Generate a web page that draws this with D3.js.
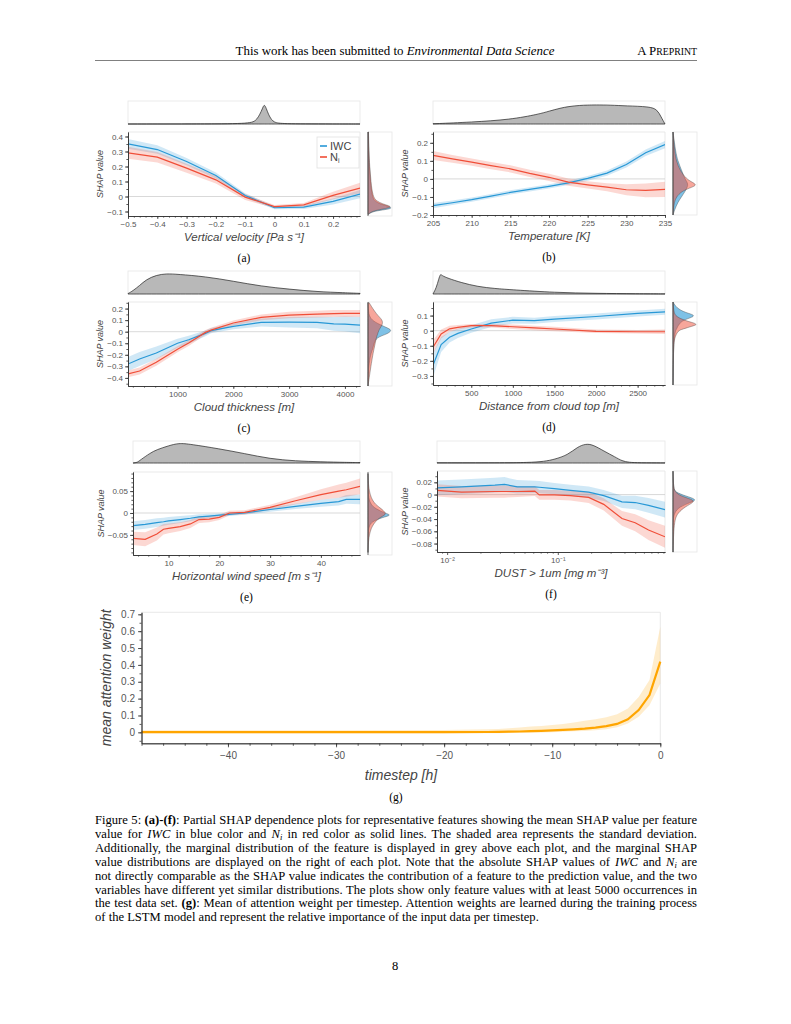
<!DOCTYPE html>
<html>
<head>
<meta charset="utf-8">
<script src="https://cdn.jsdelivr.net/npm/d3@7"></script>
<style>
  body { margin: 0; background: #fff; }
  svg text { font-family: "Liberation Sans", Arial, sans-serif; }
  svg text.serif { font-family: "Liberation Serif", "Times New Roman", serif; }
</style>
</head>
<body>
<svg id="page" width="791" height="1024"></svg>
<script>
// ---- (a) vertical velocity
const aX = [-0.5, -0.4, -0.3, -0.2, -0.1, 0, 0.1, 0.2, 0.292];
const aIwc = [0.351, 0.313, 0.233, 0.14, 0.007, -0.075, -0.071, -0.033, 0.016];
const aIwcSd = [0.032, 0.028, 0.024, 0.02, 0.015, 0.01, 0.012, 0.02, 0.028];
const aNi = [0.291, 0.262, 0.189, 0.111, -0.004, -0.067, -0.056, 0.007, 0.056];
const aNiSd = [0.04, 0.035, 0.03, 0.025, 0.02, 0.01, 0.012, 0.025, 0.035];
const aDensX = [-0.5, -0.3, -0.2, -0.12, -0.08, -0.065, -0.055, -0.045, -0.038, -0.034, -0.028, -0.021, -0.01, 0, 0.012, 0.04, 0.1, 0.2, 0.292];
const aDens = [0, 0.002, 0.005, 0.02, 0.06, 0.15, 0.33, 0.6, 0.85, 0.92, 0.75, 0.47, 0.19, 0.09, 0.04, 0.015, 0.005, 0.002, 0];
const aShapY = [0.43, 0.3, 0.2, 0.1, 0.0, -0.03, -0.05, -0.06, -0.07, -0.08, -0.09, -0.1, -0.12];
const aShapIwc = [0.01, 0.03, 0.06, 0.1, 0.17, 0.28, 0.5, 0.75, 0.92, 1.0, 0.6, 0.2, 0.0];
const aShapNi = [0.02, 0.04, 0.07, 0.12, 0.2, 0.35, 0.62, 0.85, 0.97, 0.75, 0.4, 0.15, 0.0];

// ---- (b) temperature
const bX = [205, 207.5, 210, 212.5, 215, 217.5, 220, 222.5, 225, 227.5, 230, 232.5, 235];
const bIwc = [-0.148, -0.132, -0.115, -0.095, -0.075, -0.058, -0.041, -0.022, 0.003, 0.032, 0.08, 0.145, 0.19];
const bIwcSd = [0.015, 0.013, 0.012, 0.012, 0.012, 0.012, 0.012, 0.012, 0.013, 0.015, 0.017, 0.018, 0.02];
const bNi = [0.13, 0.111, 0.093, 0.074, 0.056, 0.031, 0.009, -0.018, -0.033, -0.046, -0.06, -0.064, -0.058];
const bNiSd = [0.025, 0.022, 0.02, 0.02, 0.02, 0.02, 0.02, 0.02, 0.02, 0.022, 0.03, 0.038, 0.042];
const bDensX = [205, 210, 215, 218.7, 220, 221.5, 222.5, 224, 225, 226, 228, 230, 233, 234, 234.5, 235];
const bDens = [0.01, 0.09, 0.21, 0.47, 0.61, 0.76, 0.83, 0.89, 0.9, 0.91, 0.9, 0.86, 0.83, 0.69, 0.33, 0];
const bShapY = [0.26, 0.15, 0.1, 0.05, 0, -0.02, -0.035, -0.05, -0.07, -0.1, -0.13, -0.17, -0.2];
const bShapIwc = [0.0, 0.11, 0.2, 0.35, 0.5, 0.6, 0.62, 0.58, 0.5, 0.35, 0.2, 0.07, 0];
const bShapNi = [0.0, 0.07, 0.14, 0.28, 0.55, 0.83, 1.0, 0.7, 0.35, 0.14, 0.05, 0.02, 0];

// ---- (c) cloud thickness
const cX = [113, 320, 620, 1000, 1200, 1500, 1600, 2000, 2500, 3000, 3500, 3800, 4000, 4270];
const cIwc = [-0.28, -0.236, -0.184, -0.1, -0.07, -0.015, 0.009, 0.046, 0.08, 0.082, 0.08, 0.068, 0.066, 0.057];
const cIwcSd = [0.06, 0.06, 0.055, 0.04, 0.035, 0.025, 0.022, 0.025, 0.035, 0.045, 0.05, 0.06, 0.065, 0.07];
const cNi = [-0.365, -0.34, -0.265, -0.152, -0.098, -0.006, 0.014, 0.075, 0.124, 0.144, 0.152, 0.157, 0.158, 0.158];
const cNiSd = [0.03, 0.03, 0.03, 0.025, 0.025, 0.02, 0.02, 0.022, 0.025, 0.028, 0.03, 0.03, 0.03, 0.03];
const cDensX = [113, 200, 320, 440, 620, 800, 1000, 1500, 2000, 2500, 3000, 3500, 4000, 4270];
const cDens = [0.02, 0.15, 0.4, 0.69, 0.9, 0.97, 0.94, 0.83, 0.61, 0.37, 0.23, 0.11, 0.06, 0.03];
const cShapY = [0.25, 0.15, 0.1, 0.06, 0.03, 0.01, -0.02, -0.05, -0.1, -0.15, -0.2, -0.3, -0.4, -0.47];
const cShapIwc = [0.0, 0.02, 0.15, 0.5, 0.85, 1.0, 0.8, 0.35, 0.25, 0.2, 0.1, 0.03, 0.005, 0];
const cShapNi = [0.05, 0.35, 0.62, 0.6, 0.5, 0.45, 0.4, 0.35, 0.3, 0.25, 0.2, 0.12, 0.05, 0.0];

// ---- (d) distance from cloud top
const dX = [40, 138, 239, 339, 500, 740, 1000, 1260, 1500, 2000, 2500, 2829];
const dIwc = [-0.23, -0.092, -0.044, -0.018, 0.011, 0.05, 0.07, 0.066, 0.077, 0.094, 0.114, 0.125];
const dIwcSd = [0.08, 0.05, 0.035, 0.03, 0.025, 0.025, 0.022, 0.02, 0.02, 0.02, 0.02, 0.02];
const dNi = [-0.11, -0.022, 0.012, 0.022, 0.033, 0.033, 0.026, 0.018, 0.011, -0.004, -0.007, -0.007];
const dNiSd = [0.045, 0.03, 0.02, 0.015, 0.012, 0.012, 0.015, 0.015, 0.015, 0.012, 0.012, 0.015];
const dDensX = [40, 80, 108, 130, 145, 219, 380, 580, 780, 1000, 1500, 2000, 2500, 2829];
const dDens = [0, 0.3, 0.7, 0.97, 0.88, 0.75, 0.54, 0.35, 0.26, 0.2, 0.07, 0.03, 0.01, 0.005];
const dShapY = [0.19, 0.15, 0.12, 0.1, 0.08, 0.06, 0.05, 0.04, 0.03, 0.01, 0, -0.05, -0.1, -0.2, -0.3, -0.36];
const dShapIwc = [0, 0.15, 0.5, 1.0, 0.6, 0.35, 0.3, 0.25, 0.2, 0.15, 0.1, 0.05, 0.03, 0.015, 0.008, 0];
const dShapNi = [0, 0.02, 0.05, 0.1, 0.3, 0.65, 0.9, 1.0, 0.8, 0.4, 0.2, 0.06, 0.03, 0.01, 0.004, 0];

// ---- (e) horizontal wind speed
const eX = [3, 5.4, 7.7, 9, 10, 12.3, 14.3, 16, 18, 20, 22, 25, 30, 35, 40, 43.5, 45, 47.7];
const eIwc = [-0.029, -0.026, -0.022, -0.02, -0.018, -0.015, -0.012, -0.009, -0.007, -0.005, -0.003, 0, 0.008, 0.015, 0.022, 0.026, 0.031, 0.031];
const eIwcSd = [0.01, 0.01, 0.01, 0.009, 0.009, 0.008, 0.007, 0.006, 0.005, 0.004, 0.004, 0.004, 0.005, 0.006, 0.008, 0.009, 0.01, 0.011];
const eNi = [-0.058, -0.06, -0.048, -0.037, -0.035, -0.031, -0.025, -0.015, -0.014, -0.01, 0, 0.0015, 0.013, 0.028, 0.042, 0.05, 0.053, 0.061];
const eNiSd = [0.015, 0.016, 0.015, 0.012, 0.011, 0.01, 0.009, 0.008, 0.007, 0.006, 0.005, 0.005, 0.006, 0.008, 0.012, 0.015, 0.016, 0.018];
const eDensX = [3, 3.8, 4.4, 6.4, 7.7, 10, 12, 14.3, 20, 25, 30, 35, 40, 45, 47.7];
const eDens = [0, 0.02, 0.14, 0.5, 0.67, 0.86, 1.0, 0.94, 0.71, 0.47, 0.21, 0.1, 0.06, 0.03, 0.02];
const eShapY = [0.09, 0.06, 0.04, 0.03, 0.02, 0.01, 0.0, -0.005, -0.01, -0.02, -0.03, -0.04, -0.06, -0.09];
const eShapIwc = [0, 0.005, 0.02, 0.05, 0.12, 0.3, 0.7, 1.0, 0.6, 0.15, 0.05, 0.02, 0.005, 0];
const eShapNi = [0, 0.02, 0.1, 0.18, 0.3, 0.55, 0.75, 0.7, 0.5, 0.3, 0.18, 0.1, 0.02, 0];

// ---- (f) dust > 1um
const fX = [0.0081, 0.0135, 0.027, 0.033, 0.043, 0.062, 0.068, 0.093, 0.13, 0.19, 0.26, 0.38, 0.5, 0.66, 0.93];
const fIwc = [0.011, 0.0126, 0.0154, 0.0166, 0.0126, 0.0126, 0.012, 0.0097, 0.0069, 0.004, -0.0017, -0.012, -0.013, -0.0177, -0.0246];
const fIwcSd = [0.012, 0.012, 0.012, 0.012, 0.011, 0.01, 0.01, 0.009, 0.009, 0.009, 0.009, 0.01, 0.011, 0.012, 0.013];
const fNi = [0.0069, 0.004, 0.005, 0.005, 0.005, 0.0057, -0.0006, -0.0006, -0.0017, -0.0046, -0.016, -0.039, -0.046, -0.058, -0.069];
const fNiSd = [0.01, 0.01, 0.01, 0.01, 0.009, 0.008, 0.008, 0.008, 0.008, 0.009, 0.01, 0.012, 0.014, 0.016, 0.018];
const fDensX = [0.0081, 0.03, 0.054, 0.076, 0.093, 0.123, 0.15, 0.18, 0.21, 0.26, 0.33, 0.38, 0.44, 0.54, 0.93];
const fDens = [0.01, 0.01, 0.02, 0.08, 0.18, 0.4, 0.8, 0.97, 0.9, 0.6, 0.3, 0.1, 0.03, 0.01, 0.005];
const fShapY = [0.038, 0.01, 0.004, -0.002, -0.008, -0.012, -0.02, -0.03, -0.04, -0.06, -0.08, -0.094];
const fShapIwc = [0, 0.02, 0.1, 0.5, 1.0, 0.8, 0.25, 0.06, 0.01, 0.0, 0, 0];
const fShapNi = [0, 0.02, 0.1, 0.3, 0.8, 0.9, 0.5, 0.2, 0.08, 0.03, 0.01, 0];

// ---- (g) attention weight
const gX = [-48, -40, -30, -20, -16, -15, -14, -13, -12, -11, -10, -9, -8, -7, -6, -5, -4, -3, -2, -1, 0];
const gMean = [0.001, 0.001, 0.001, 0.001, 0.002, 0.003, 0.004, 0.005, 0.007, 0.009, 0.012, 0.015, 0.018, 0.022, 0.028, 0.037, 0.05, 0.077, 0.132, 0.221, 0.419];
const gLow = [-0.006, -0.006, -0.006, -0.006, -0.005, -0.005, -0.004, -0.003, -0.002, -0.001, 0.0, 0.003, 0.006, 0.008, 0.012, 0.018, 0.03, 0.053, 0.093, 0.16, 0.29];
const gHigh = [0.012, 0.012, 0.012, 0.014, 0.018, 0.02, 0.024, 0.028, 0.034, 0.038, 0.043, 0.049, 0.059, 0.069, 0.077, 0.089, 0.107, 0.142, 0.21, 0.31, 0.626];

const BLUE = "#2898d6", RED = "#f04e38", ORANGE = "#ffa500";
const svg = d3.select("#page");

function num(d) {
  return d === 0 ? "0" : String(+d.toFixed(6)).replace("-", "\u2212");
}
function pairs(xs, ys) { return xs.map((v, i) => [v, ys[i]]); }

function styleAxis(ax, size) {
  ax.attr("font-family", null).attr("font-size", size);
  ax.select(".domain").attr("stroke", "#333").attr("stroke-width", 0.8);
  ax.selectAll(".tick line").attr("stroke", "#333").attr("stroke-width", 0.8);
  ax.selectAll(".tick text").attr("fill", "#555");
}

function drawPanel(p) {
  const g = svg.append("g");
  const x = (p.log ? d3.scaleLog() : d3.scaleLinear()).domain(p.xDomain).range([p.x0, p.x1]);
  const y = d3.scaleLinear().domain(p.yDomain).range([p.y1, p.y0]);

  // top marginal: feature distribution
  const ty = d3.scaleLinear().domain([0, 1]).range([p.ty1, p.ty0 + 2]);
  g.append("rect").attr("x", p.x0).attr("y", p.ty0).attr("width", p.x1 - p.x0).attr("height", p.ty1 - p.ty0)
    .attr("fill", "none").attr("stroke", "#e6e6e6").attr("stroke-width", 0.8);
  g.append("path").datum(pairs(p.densX, p.dens))
    .attr("d", d3.area().x(d => x(d[0])).y0(ty(0)).y1(d => ty(d[1])).curve(d3.curveBasis))
    .attr("fill", "#b8b8b8").attr("stroke", "#222").attr("stroke-width", 0.7);

  // right marginal: SHAP distributions
  const rx = d3.scaleLinear().domain([0, 1]).range([p.rx0, p.rx1]);
  g.append("rect").attr("x", p.rx0).attr("y", p.y0).attr("width", p.rx1 - p.rx0).attr("height", p.y1 - p.y0)
    .attr("fill", "none").attr("stroke", "#e6e6e6").attr("stroke-width", 0.8);
  const marg = d3.area().y(d => y(d[0])).x0(p.rx0).x1(d => rx(d[1])).curve(d3.curveBasis);
  g.append("path").datum(pairs(p.shapY, p.shapIwc)).attr("d", marg)
    .attr("fill", BLUE).attr("fill-opacity", 0.6).attr("stroke", "#444").attr("stroke-width", 0.4);
  g.append("path").datum(pairs(p.shapY, p.shapNi)).attr("d", marg)
    .attr("fill", RED).attr("fill-opacity", 0.5).attr("stroke", "#444").attr("stroke-width", 0.4);
  g.append("line").attr("x1", p.rx0).attr("x2", p.rx0).attr("y1", p.y0).attr("y2", p.y1)
    .attr("stroke", "#555").attr("stroke-width", 0.8);

  // main frame
  const clipId = "clip-" + p.id;
  svg.append("clipPath").attr("id", clipId).append("rect")
    .attr("x", p.x0).attr("y", p.y0).attr("width", p.x1 - p.x0).attr("height", p.y1 - p.y0);
  g.append("path").attr("d", `M${p.x0},${p.y0}H${p.x1}V${p.y1}`)
    .attr("fill", "none").attr("stroke", "#e3e3e3").attr("stroke-width", 0.8);
  g.append("line").attr("x1", p.x0).attr("x2", p.x1).attr("y1", y(0)).attr("y2", y(0))
    .attr("stroke", "#cfcfcf").attr("stroke-width", 0.8);

  const body = g.append("g").attr("clip-path", `url(#${clipId})`);
  const series = [[p.iwc, p.iwcSd, BLUE], [p.ni, p.niSd, RED]];
  series.forEach(([m, sd, col]) => {
    const rows = p.fx.map((v, i) => [v, m[i], sd[i]]);
    body.append("path").datum(rows)
      .attr("d", d3.area().x(d => x(d[0])).y0(d => y(d[1] - d[2])).y1(d => y(d[1] + d[2])))
      .attr("fill", col).attr("fill-opacity", 0.22);
  });
  series.forEach(([m, sd, col]) => {
    body.append("path").datum(pairs(p.fx, m))
      .attr("d", d3.line().x(d => x(d[0])).y(d => y(d[1])))
      .attr("fill", "none").attr("stroke", col).attr("stroke-width", 1.2);
  });

  // axes
  const yAx = g.append("g").attr("transform", `translate(${p.x0},0)`)
    .call(d3.axisLeft(y).tickValues(p.yTicks).tickFormat(num).tickSize(3).tickSizeOuter(0).tickPadding(2));
  styleAxis(yAx, 8);
  const yMin = g.append("g").attr("transform", `translate(${p.x0},0)`)
    .call(d3.axisLeft(y).tickValues(p.yMinor).tickFormat("").tickSize(1.6).tickSizeOuter(0));
  styleAxis(yMin, 8);
  const xAx = g.append("g").attr("transform", `translate(0,${p.y1})`)
    .call(d3.axisBottom(x).tickValues(p.xTicks).tickFormat(p.xFmt || num).tickSize(3).tickSizeOuter(0).tickPadding(2));
  styleAxis(xAx, 8);
  const xMin = g.append("g").attr("transform", `translate(0,${p.y1})`)
    .call(d3.axisBottom(x).tickValues(p.xMinor).tickFormat("").tickSize(1.6).tickSizeOuter(0));
  styleAxis(xMin, 8);

  // labels
  g.append("text").attr("x", (p.x0 + p.x1) / 2).attr("y", p.y1 + 25).attr("text-anchor", "middle")
    .attr("font-size", 11.5).attr("font-style", "italic").attr("fill", "#444").text(p.xLabel);
  g.append("text").attr("transform", `translate(${p.ylabX},${(p.y0 + p.y1) / 2}) rotate(-90)`)
    .attr("text-anchor", "middle").attr("dy", "0.35em")
    .attr("font-size", 9).attr("font-style", "italic").attr("fill", "#444").text("SHAP value");
  g.append("text").attr("class", "serif").attr("x", (p.x0 + p.x1) / 2).attr("y", p.y1 + 46)
    .attr("text-anchor", "middle").attr("font-size", 11.5).text(p.caption);

  if (p.legend) {
    const lg = g.append("g");
    lg.append("rect").attr("x", 317).attr("y", 137).attr("width", 42).attr("height", 31)
      .attr("fill", "#fff").attr("stroke", "#e0e0e0").attr("stroke-width", 0.8);
    [[BLUE, 146, "IWC"], [RED, 157, "N"]].forEach(([col, yy, t]) => {
      lg.append("line").attr("x1", 320).attr("x2", 327).attr("y1", yy).attr("y2", yy)
        .attr("stroke", col).attr("stroke-width", 1.6);
      const tx = lg.append("text").attr("x", 330).attr("y", yy + 4).attr("font-size", 11).attr("fill", "#444").text(t);
      if (t === "N") tx.append("tspan").attr("font-size", 7).attr("dy", 2).text("i");
    });
  }
}

const range = (a, b, s) => d3.range(Math.round(a / s), Math.round(b / s) + 1).map(k => +(k * s).toFixed(6));

drawPanel({
  id: "a", x0: 128, x1: 360, y0: 132, y1: 216, ty0: 101, ty1: 124, rx0: 368, rx1: 392, ylabX: 100,
  xDomain: [-0.5, 0.292], yDomain: [-0.13, 0.43],
  xTicks: [-0.5, -0.4, -0.3, -0.2, -0.1, 0, 0.1, 0.2], xMinor: range(-0.5, 0.28, 0.02),
  yTicks: [-0.1, 0, 0.1, 0.2, 0.3, 0.4], yMinor: range(-0.1, 0.4, 0.05),
  xLabel: "Vertical velocity [Pa s\u207B\u00B9]", caption: "(a)", legend: true,
  fx: aX, iwc: aIwc, iwcSd: aIwcSd, ni: aNi, niSd: aNiSd,
  densX: aDensX, dens: aDens, shapY: aShapY, shapIwc: aShapIwc, shapNi: aShapNi
});
drawPanel({
  id: "b", x0: 433, x1: 665, y0: 132, y1: 215, ty0: 101, ty1: 124, rx0: 673, rx1: 697, ylabX: 405,
  xDomain: [205, 235], yDomain: [-0.2, 0.26],
  xTicks: [205, 210, 215, 220, 225, 230, 235], xMinor: range(205, 235, 1),
  yTicks: [-0.2, -0.1, 0, 0.1, 0.2], yMinor: range(-0.2, 0.25, 0.05),
  xLabel: "Temperature [K]", caption: "(b)",
  fx: bX, iwc: bIwc, iwcSd: bIwcSd, ni: bNi, niSd: bNiSd,
  densX: bDensX, dens: bDens, shapY: bShapY, shapIwc: bShapIwc, shapNi: bShapNi
});
drawPanel({
  id: "c", x0: 128, x1: 360, y0: 302, y1: 386, ty0: 271, ty1: 294, rx0: 368, rx1: 392, ylabX: 100,
  xDomain: [113, 4270], yDomain: [-0.47, 0.257],
  xTicks: [1000, 2000, 3000, 4000], xMinor: range(200, 4200, 200),
  yTicks: [-0.4, -0.3, -0.2, -0.1, 0, 0.1, 0.2], yMinor: range(-0.45, 0.25, 0.05),
  xLabel: "Cloud thickness [m]", caption: "(c)",
  fx: cX, iwc: cIwc, iwcSd: cIwcSd, ni: cNi, niSd: cNiSd,
  densX: cDensX, dens: cDens, shapY: cShapY, shapIwc: cShapIwc, shapNi: cShapNi
});
drawPanel({
  id: "d", x0: 433, x1: 665, y0: 302, y1: 385, ty0: 271, ty1: 294, rx0: 673, rx1: 697, ylabX: 405,
  xDomain: [40, 2829], yDomain: [-0.36, 0.19],
  xTicks: [500, 1000, 1500, 2000, 2500], xMinor: range(100, 2800, 100),
  yTicks: [-0.3, -0.2, -0.1, 0, 0.1], yMinor: range(-0.35, 0.15, 0.05),
  xLabel: "Distance from cloud top [m]", caption: "(d)",
  fx: dX, iwc: dIwc, iwcSd: dIwcSd, ni: dNi, niSd: dNiSd,
  densX: dDensX, dens: dDens, shapY: dShapY, shapIwc: dShapIwc, shapNi: dShapNi
});
drawPanel({
  id: "e", x0: 133, x1: 360, y0: 472, y1: 555, ty0: 441, ty1: 463, rx0: 368, rx1: 392, ylabX: 101,
  xDomain: [3, 47.7], yDomain: [-0.0959, 0.0936],
  xTicks: [10, 20, 30, 40], xMinor: range(4, 46, 2),
  yTicks: [-0.05, 0, 0.05], yMinor: range(-0.09, 0.09, 0.01),
  xLabel: "Horizontal wind speed [m s\u207B\u00B9]", caption: "(e)",
  fx: eX, iwc: eIwc, iwcSd: eIwcSd, ni: eNi, niSd: eNiSd,
  densX: eDensX, dens: eDens, shapY: eShapY, shapIwc: eShapIwc, shapNi: eShapNi
});
drawPanel({
  id: "f", x0: 437, x1: 665, y0: 471, y1: 552, ty0: 441, ty1: 463, rx0: 673, rx1: 697, ylabX: 405,
  log: true, xDomain: [0.0081, 0.93], yDomain: [-0.0938, 0.0385],
  xTicks: [0.01, 0.1], xFmt: d => d === 0.01 ? "10\u207B\u00B2" : "10\u207B\u00B9",
  xMinor: [0.009, 0.02, 0.03, 0.04, 0.05, 0.06, 0.07, 0.08, 0.09, 0.2, 0.3, 0.4, 0.5, 0.6, 0.7, 0.8, 0.9],
  yTicks: [-0.08, -0.06, -0.04, -0.02, 0, 0.02], yMinor: range(-0.09, 0.03, 0.01),
  xLabel: "DUST > 1um [mg m\u207B\u00B3]", caption: "(f)",
  fx: fX, iwc: fIwc, iwcSd: fIwcSd, ni: fNi, niSd: fNiSd,
  densX: fDensX, dens: fDens, shapY: fShapY, shapIwc: fShapIwc, shapNi: fShapNi
});

// ---- panel (g)
(function () {
  const x0 = 141.5, x1 = 660.3, y0 = 612.3, y1 = 743.3;
  const x = d3.scaleLinear().domain([-48, 0]).range([x0, x1]);
  const y = d3.scaleLinear().domain([-0.065, 0.712]).range([y1, y0]);
  const g = svg.append("g");
  g.append("path").attr("d", `M${x0},${y0}H${x1}V${y1}`)
    .attr("fill", "none").attr("stroke", "#e3e3e3").attr("stroke-width", 0.8);
  const rows = gX.map((v, i) => [v, gMean[i], gLow[i], gHigh[i]]);
  g.append("path").datum(rows)
    .attr("d", d3.area().x(d => x(d[0])).y0(d => y(d[2])).y1(d => y(d[3])))
    .attr("fill", ORANGE).attr("fill-opacity", 0.2);
  g.append("path").datum(rows)
    .attr("d", d3.line().x(d => x(d[0])).y(d => y(d[1])))
    .attr("fill", "none").attr("stroke", ORANGE).attr("stroke-width", 2.2);

  const yAx = g.append("g").attr("transform", `translate(${x0},0)`)
    .call(d3.axisLeft(y).tickValues([0, 0.1, 0.2, 0.3, 0.4, 0.5, 0.6, 0.7]).tickFormat(num)
      .tickSize(3.5).tickSizeOuter(0).tickPadding(3));
  styleAxis(yAx, 10);
  const yMin = g.append("g").attr("transform", `translate(${x0},0)`)
    .call(d3.axisLeft(y).tickValues(range(-0.05, 0.7, 0.05)).tickFormat("").tickSize(2).tickSizeOuter(0));
  styleAxis(yMin, 10);
  const xAx = g.append("g").attr("transform", `translate(0,${y1})`)
    .call(d3.axisBottom(x).tickValues([-40, -30, -20, -10, 0]).tickFormat(num)
      .tickSize(4).tickSizeOuter(0).tickPadding(5));
  styleAxis(xAx, 10);
  const xMin = g.append("g").attr("transform", `translate(0,${y1})`)
    .call(d3.axisBottom(x).tickValues(range(-48, 0, 2)).tickFormat("").tickSize(2.5).tickSizeOuter(0));
  styleAxis(xMin, 10);

  g.append("text").attr("x", 401).attr("y", 780).attr("text-anchor", "middle")
    .attr("font-size", 14).attr("font-style", "italic").attr("fill", "#444").text("timestep [h]");
  g.append("text").attr("transform", `translate(106,${(y0 + y1) / 2}) rotate(-90)`)
    .attr("text-anchor", "middle").attr("dy", "0.35em")
    .attr("font-size", 14).attr("font-style", "italic").attr("fill", "#444").text("mean attention weight");
  g.append("text").attr("class", "serif").attr("x", 396).attr("y", 801)
    .attr("text-anchor", "middle").attr("font-size", 11.5).text("(g)");
})();

// ---- page header, caption, page number
const head = svg.append("text").attr("class", "serif").attr("x", 395).attr("y", 55)
  .attr("text-anchor", "middle").attr("font-size", 12.9);
head.append("tspan").text("This work has been submitted to ");
head.append("tspan").attr("font-style", "italic").text("Environmental Data Science");
const pre = svg.append("text").attr("class", "serif").attr("x", 697).attr("y", 55)
  .attr("text-anchor", "end").attr("font-size", 12.9);
pre.append("tspan").text("A P");
pre.append("tspan").attr("font-size", 9.8).text("REPRINT");
svg.append("line").attr("x1", 95).attr("x2", 697).attr("y1", 60.5).attr("y2", 60.5)
  .attr("stroke", "#000").attr("stroke-width", 0.5);

const IWC = { t: "IWC", i: true };
const NI = { t: "N", i: true, sub: "i" };
const captionLines = [
  [{ t: "Figure 5: " }, { t: "(a)-(f)", b: true }, { t: ": Partial SHAP dependence plots for representative features showing the mean SHAP value per feature" }],
  [{ t: "value for " }, IWC, { t: " in blue color and " }, NI, { t: " in red color as solid lines. The shaded area represents the standard deviation." }],
  [{ t: "Additionally, the marginal distribution of the feature is displayed in grey above each plot, and the marginal SHAP" }],
  [{ t: "value distributions are displayed on the right of each plot. Note that the absolute SHAP values of " }, IWC, { t: " and " }, NI, { t: " are" }],
  [{ t: "not directly comparable as the SHAP value indicates the contribution of a feature to the prediction value, and the two" }],
  [{ t: "variables have different yet similar distributions. The plots show only feature values with at least 5000 occurrences in" }],
  [{ t: "the test data set. " }, { t: "(g)", b: true }, { t: ": Mean of attention weight per timestep. Attention weights are learned during the training process" }],
  [{ t: "of the LSTM model and represent the relative importance of the input data per timestep." }]
];
captionLines.forEach((segs, li) => {
  const t = svg.append("text").attr("class", "serif").attr("x", 95).attr("y", 824 + li * 13.9)
    .attr("font-size", 12.6).attr("fill", "#000");
  let back = 0;
  segs.forEach(s => {
    const sp = t.append("tspan").text(s.t);
    if (back) { sp.attr("dy", -back); back = 0; }
    if (s.b) sp.attr("font-weight", "bold");
    if (s.i) sp.attr("font-style", "italic");
    if (s.sub) {
      t.append("tspan").attr("font-style", "italic").attr("font-size", 8.5).attr("dy", 2.5).text(s.sub);
      back = 2.5;
    }
  });
  if (li < captionLines.length - 1) {
    // justify by stretching the inter-word gaps
    const w = t.node().getComputedTextLength();
    const gaps = segs.map(s => s.t).join("").split(" ").length - 1;
    t.attr("word-spacing", ((602 - w) / gaps).toFixed(3));
  }
});

svg.append("text").attr("class", "serif").attr("x", 395).attr("y", 970)
  .attr("text-anchor", "middle").attr("font-size", 12.5).text("8");
</script>
</body>
</html>
